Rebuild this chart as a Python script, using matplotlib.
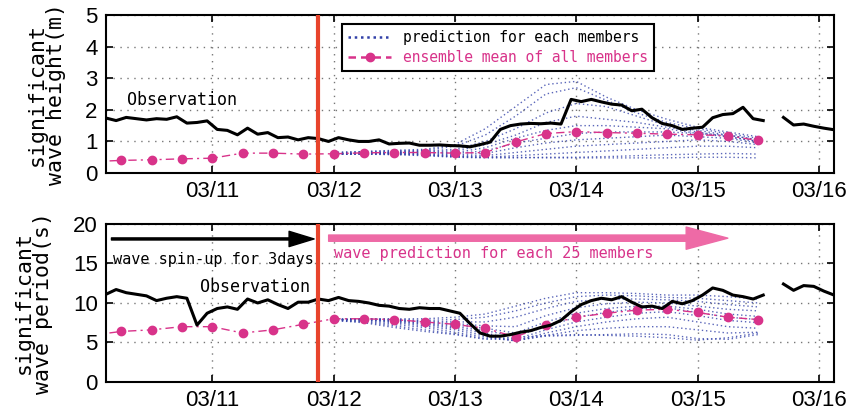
import numpy as np
import matplotlib.pyplot as plt
from matplotlib.lines import Line2D

# x axis = day of March (JST)
obs_start = 10.125
obs_step = 1 / 12  # 2-hourly observation
hs_obs = [1.74, 1.66, 1.76, 1.72, 1.68, 1.72, 1.70, 1.78, 1.58, 1.60,
          1.65, 1.38, 1.35, 1.21, 1.42, 1.23, 1.28, 1.12, 1.14, 1.05,
          1.12, 1.09, 1.00, 1.12, 1.05, 1.00, 1.00, 1.05, 0.92, 0.94,
          0.95, 0.88, 0.88, 0.89, 0.87, 0.86, 0.83, 0.90, 0.98, 1.38,
          1.50, 1.55, 1.57, 1.56, 1.58, 1.55, 2.33, 2.26, 2.33, 2.25,
          2.18, 2.15, 1.97, 2.02, 1.75, 1.57, 1.50, 1.38, 1.42, 1.45,
          1.75, 1.85, 1.88, 2.08, 1.72, 1.66, np.nan, 1.76, 1.52, 1.55,
          1.48, 1.42, 1.37]
tp_obs = [11.1, 11.7, 11.3, 11.1, 10.9, 10.3, 10.6, 10.8, 10.6, 7.2,
          8.7, 9.3, 9.5, 9.2, 10.5, 10.0, 10.4, 9.8, 9.3, 10.1,
          10.1, 10.5, 10.3, 10.7, 10.3, 10.2, 10.0, 9.7, 9.6, 9.3,
          9.2, 9.4, 9.3, 9.3, 9.0, 8.7, 7.4, 6.2, 5.8, 5.8,
          6.0, 6.3, 6.5, 6.9, 7.2, 7.8, 8.9, 9.8, 10.3, 10.6,
          10.4, 10.8, 10.1, 9.5, 9.6, 9.3, 10.2, 9.9, 10.3, 11.0,
          11.9, 11.6, 11.0, 10.8, 10.5, 11.0, np.nan, 12.4, 11.6, 12.2,
          12.1, 11.5, 11.0]

# ensemble mean, 6-hourly from 03/10 00:00
mean_start = 10.0
hs_mean = [0.36, 0.40, 0.42, 0.45, 0.47, 0.63, 0.63, 0.60, 0.61, 0.64, 0.65,
           0.65, 0.63, 0.65, 0.98, 1.25, 1.31, 1.28, 1.26, 1.23, 1.21, 1.18, 1.03]
tp_mean = [5.9, 6.4, 6.6, 7.0, 7.0, 6.2, 6.6, 7.3, 8.0, 8.0, 7.9,
           7.6, 7.3, 6.8, 5.7, 7.2, 8.2, 8.7, 9.1, 9.2, 8.8, 8.2, 7.9]

# individual members, 6-hourly from 03/12 00:00
member_start = 12.0
hs_members = [
    [0.65, 0.68, 0.72, 0.75, 0.90, 1.40, 2.10, 2.80, 2.90, 2.40, 2.00, 1.70, 1.45, 1.30, 1.15],
    [0.65, 0.68, 0.70, 0.72, 0.85, 1.20, 1.80, 2.50, 2.70, 2.30, 1.90, 1.60, 1.40, 1.25, 1.10],
    [0.62, 0.65, 0.68, 0.70, 0.75, 1.00, 1.40, 1.90, 2.20, 2.10, 1.80, 1.50, 1.35, 1.20, 1.05],
    [0.62, 0.64, 0.66, 0.68, 0.70, 0.90, 1.20, 1.60, 1.80, 1.70, 1.60, 1.45, 1.30, 1.15, 1.00],
    [0.60, 0.63, 0.65, 0.66, 0.65, 0.80, 1.10, 1.35, 1.50, 1.50, 1.45, 1.40, 1.25, 1.20, 1.05],
    [0.60, 0.62, 0.64, 0.64, 0.62, 0.70, 0.95, 1.10, 1.25, 1.30, 1.30, 1.30, 1.25, 1.15, 1.00],
    [0.60, 0.62, 0.63, 0.62, 0.58, 0.62, 0.80, 0.95, 1.05, 1.10, 1.15, 1.20, 1.15, 1.10, 0.95],
    [0.60, 0.61, 0.62, 0.60, 0.55, 0.55, 0.65, 0.75, 0.85, 0.90, 0.95, 1.00, 1.05, 1.00, 0.90],
    [0.60, 0.60, 0.60, 0.58, 0.52, 0.50, 0.55, 0.60, 0.65, 0.70, 0.75, 0.80, 0.85, 0.85, 0.80],
    [0.60, 0.60, 0.58, 0.55, 0.50, 0.48, 0.48, 0.50, 0.50, 0.52, 0.55, 0.58, 0.60, 0.62, 0.60],
    [0.60, 0.60, 0.60, 0.57, 0.52, 0.50, 0.50, 0.48, 0.48, 0.48, 0.48, 0.48, 0.50, 0.50, 0.48],
]
tp_members = [
    [7.9, 8.0, 8.0, 8.0, 8.2, 8.6, 9.6, 10.6, 11.3, 11.3, 11.2, 11.0, 11.0, 10.8, 10.5],
    [7.9, 8.0, 7.9, 7.8, 7.9, 8.2, 9.0, 10.0, 10.8, 11.0, 10.9, 10.7, 10.6, 10.3, 10.0],
    [7.9, 8.0, 7.9, 7.7, 7.6, 7.6, 8.2, 9.3, 10.2, 10.5, 10.5, 10.4, 10.2, 9.8, 9.5],
    [7.9, 8.0, 7.8, 7.6, 7.4, 7.1, 7.0, 8.4, 9.4, 9.9, 10.1, 10.0, 9.6, 9.2, 9.0],
    [7.9, 7.9, 7.8, 7.5, 7.2, 6.8, 6.2, 7.6, 8.7, 9.3, 9.6, 9.6, 9.2, 8.6, 8.3],
    [7.9, 7.9, 7.7, 7.4, 7.0, 6.5, 5.8, 7.0, 8.2, 8.8, 9.3, 9.4, 8.8, 8.2, 7.9],
    [7.9, 7.9, 7.6, 7.3, 6.8, 6.2, 5.4, 6.6, 7.6, 8.2, 8.7, 8.9, 8.4, 7.8, 7.5],
    [7.9, 7.8, 7.5, 7.1, 6.6, 5.9, 5.2, 6.2, 7.0, 7.6, 8.0, 8.2, 7.6, 7.0, 6.8],
    [7.8, 7.7, 7.3, 6.9, 6.3, 5.7, 5.2, 5.9, 6.5, 6.8, 7.0, 7.0, 6.6, 6.2, 6.3],
    [7.8, 7.6, 7.1, 6.6, 6.1, 5.5, 5.3, 5.8, 5.9, 6.0, 6.1, 6.0, 5.5, 5.4, 6.0],
    [7.8, 7.5, 6.9, 6.4, 6.0, 5.4, 5.6, 5.9, 6.0, 5.9, 5.8, 5.6, 5.3, 5.6, 6.2],
]

tick_days = [11, 12, 13, 14, 15, 16]
tick_labels = ['03/11', '03/12', '03/13', '03/14', '03/15', '03/16']
forecast_start = 11.875
xlim = (10.125, 16.125)

MONO = 'DejaVu Sans Mono'
PINK = '#d8338a'
BLUE = '#3140a8'
plt.rcParams['font.family'] = ['Liberation Sans', 'DejaVu Sans']

t_obs = obs_start + obs_step * np.arange(len(hs_obs))
t_mean = mean_start + 0.25 * np.arange(len(hs_mean))
t_mem = member_start + 0.25 * np.arange(len(hs_members[0]))

fig = plt.figure(figsize=(8.48, 4.16), dpi=100)
ax1 = fig.add_axes([0.125, 0.584, 0.8585, 0.380])
ax2 = fig.add_axes([0.125, 0.0817, 0.8585, 0.380])


def draw_panel(ax, obs, mean, members, ymax, ystep, label):
    for m in members:
        ax.plot(t_mem, m, color=BLUE, lw=1.0, ls=(0, (1, 2)), alpha=0.8, zorder=2)
    ax.plot(t_mean, mean, color=PINK, lw=1.0, ls=(0, (6, 3, 1.5, 3)),
            marker='o', ms=6, mfc=PINK, mec=PINK, zorder=3)
    ax.plot(t_obs, obs, color='black', lw=2.2, zorder=4)
    ax.axvline(forecast_start, color='#e8442c', lw=3, zorder=5)
    ax.set_xlim(*xlim)
    ax.set_ylim(0, ymax)
    ax.set_yticks(np.arange(0, ymax + 0.1, ystep))
    ax.set_xticks(tick_days)
    ax.set_xticklabels(tick_labels)
    ax.grid(True, color='#777777', ls=(0, (1, 4)), lw=1.0)
    ax.tick_params(direction='in', top=True, right=True, length=5, width=1.2,
                   labelsize=16, pad=6)
    for s in ax.spines.values():
        s.set_linewidth(1.5)
    ax.set_ylabel(label, family=MONO, fontsize=15.5, linespacing=0.95, labelpad=14)


draw_panel(ax1, hs_obs, hs_mean, hs_members, 5, 1, 'significant\nwave height(m)')
draw_panel(ax2, tp_obs, tp_mean, tp_members, 20, 5, 'significant\nwave period(s)')

ax1.text(10.3, 2.3, 'Observation', family=MONO, fontsize=12, va='center')
ax2.text(10.9, 12.0, 'Observation', family=MONO, fontsize=12, va='center')

# legend
handles = [Line2D([], [], color=BLUE, lw=1.8, ls=(0, (1, 1.5))),
           Line2D([], [], color=PINK, lw=1.8, ls=(0, (3, 2)), marker='o', ms=6)]
leg = ax1.legend(handles, ['prediction for each members', 'ensemble mean of all members'],
                 loc='upper left', bbox_to_anchor=(0.324, 0.94), borderaxespad=0,
                 prop={'family': MONO, 'size': 10.5}, fancybox=False, framealpha=1,
                 edgecolor='black', handlelength=3, borderpad=0.4, labelspacing=0.3)
leg.get_frame().set_linewidth(1.5)
leg.get_texts()[1].set_color(PINK)

# arrows and notes in the lower panel
ax2.annotate('', xy=(11.84, 18.1), xytext=(10.17, 18.1),
             arrowprops=dict(color='black', width=1.5, headwidth=11, headlength=18, shrink=0))
ax2.text(10.18, 15.5, 'wave spin-up for 3days', family=MONO, fontsize=11, va='center')
ax2.annotate('', xy=(15.25, 18.2), xytext=(11.96, 18.2),
             arrowprops=dict(color='#ee6aa6', width=4.5, headwidth=16, headlength=30, shrink=0))
ax2.text(12.0, 16.3, 'wave prediction for each 25 members', family=MONO, fontsize=11,
         color=PINK, va='center')

fig.savefig('out.png', dpi=100)
